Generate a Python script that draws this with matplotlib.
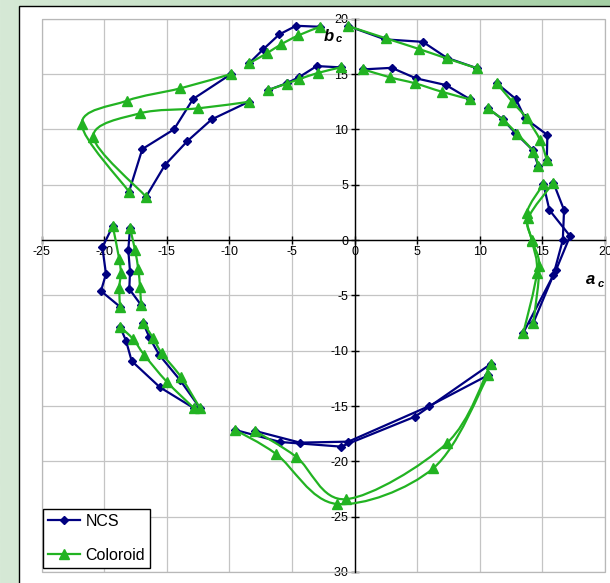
import numpy as np
import matplotlib
matplotlib.use("Agg")
import matplotlib.pyplot as plt
from matplotlib.patches import Rectangle, PathPatch
from matplotlib.path import Path
from matplotlib.lines import Line2D
from matplotlib.colors import LinearSegmentedColormap

plt.rcParams['font.family'] = ['Liberation Sans', 'DejaVu Sans']
plt.rcParams['axes.unicode_minus'] = False

# a_c / b_c of the hue loops, one row per loop (5 steps each)
ncs_a = [
    [-9.86, -12.90, -14.42, -16.95, -18.01],
    [-8.45, -11.41, -13.35, -15.14, -16.65],
    [-8.43, -7.28, -6.01, -4.67, -2.76],
    [-6.89, -5.39, -4.43, -3.02, -1.10],
    [-0.50, 2.44, 5.45, 7.36, 9.81],
    [0.70, 2.97, 4.91, 7.31, 9.23],
    [11.36, 12.88, 13.62, 15.40, 15.35],
    [10.64, 11.84, 12.82, 14.23, 14.68],
    [15.08, 15.56, 17.21, 16.09, 13.48],
    [15.88, 16.73, 16.63, 15.88, 14.28],
    [-9.54, -5.95, -1.08, 4.83, 10.88],
    [-7.95, -4.35, -0.50, 5.97, 10.69],
    [-18.73, -18.25, -17.80, -15.54, -12.82],
    [-16.87, -16.39, -15.59, -13.94, -12.34],
    [-19.31, -20.14, -19.85, -20.25, -18.73],
    [-17.93, -18.07, -17.93, -17.99, -17.05],
]
ncs_b = [
    [15.00, 12.74, 10.00, 8.22, 4.36],
    [12.49, 10.90, 8.94, 6.78, 3.91],
    [15.96, 17.25, 18.58, 19.36, 19.27],
    [13.55, 14.18, 14.72, 15.72, 15.60],
    [19.33, 18.13, 17.91, 16.47, 15.51],
    [15.42, 15.56, 14.61, 14.00, 12.71],
    [14.16, 12.74, 10.99, 9.49, 7.23],
    [11.90, 10.90, 9.69, 8.13, 6.68],
    [5.06, 2.71, 0.36, -2.71, -8.37],
    [5.18, 2.71, 0.00, -3.16, -7.47],
    [-17.16, -18.25, -18.67, -15.96, -11.20],
    [-17.25, -18.31, -18.22, -15.00, -12.20],
    [-7.83, -9.10, -10.93, -13.31, -15.20],
    [-7.52, -8.79, -10.39, -12.65, -15.20],
    [1.26, -0.66, -3.07, -4.61, -6.03],
    [1.06, -0.90, -2.86, -4.43, -5.87],
]
col_a = [
    [-9.86, -13.94, -18.20, -21.79, -18.01],
    [-8.45, -12.48, -17.13, -20.86, -16.65],
    [-8.43, -7.01, -5.87, -4.49, -2.76],
    [-6.89, -5.42, -4.41, -2.89, -1.10],
    [-0.50, 2.52, 5.18, 7.36, 9.81],
    [0.70, 2.84, 4.83, 6.96, 9.23],
    [11.36, 12.60, 13.75, 14.82, 15.35],
    [10.64, 11.88, 13.00, 14.28, 14.68],
    [15.08, 13.75, 14.15, 14.76, 14.28],
    [15.88, 13.88, 14.18, 14.55, 13.48],
    [-9.54, -6.27, -1.42, 6.29, 10.69],
    [-7.95, -4.67, -0.68, 7.36, 10.88],
    [-18.73, -17.67, -16.79, -15.00, -12.82],
    [-16.87, -16.07, -15.40, -13.86, -12.34],
    [-19.31, -18.79, -18.67, -18.79, -18.73],
    [-17.93, -17.53, -17.27, -17.13, -17.05],
]
col_b = [
    [15.00, 13.70, 12.58, 10.48, 4.36],
    [12.49, 11.90, 11.45, 9.33, 3.91],
    [15.96, 16.87, 17.68, 18.49, 19.27],
    [13.55, 14.14, 14.54, 15.11, 15.60],
    [19.33, 18.22, 17.25, 16.41, 15.51],
    [15.42, 14.70, 14.16, 13.40, 12.71],
    [14.16, 12.49, 10.99, 9.03, 7.23],
    [11.90, 10.84, 9.58, 7.98, 6.68],
    [5.06, 2.44, 0.00, -2.35, -7.47],
    [5.18, 1.99, -0.09, -2.98, -8.37],
    [-17.16, -19.33, -23.85, -20.62, -12.20],
    [-17.25, -19.58, -23.42, -18.37, -11.20],
    [-7.83, -8.97, -10.39, -12.80, -15.20],
    [-7.52, -8.88, -10.23, -12.38, -15.20],
    [1.26, -1.74, -3.01, -4.36, -6.03],
    [1.06, -0.90, -2.65, -4.27, -5.87],
]

NCS_COLOR = '#000080'
COL_COLOR = '#22b322'


def smooth_path(x, y):
    # Bezier through the points, control points from the neighbours
    p = np.column_stack([x, y])
    p = np.vstack([p[0], p, p[-1]])
    verts = [p[1]]
    codes = [Path.MOVETO]
    for i in range(1, len(p) - 2):
        c1 = p[i] + (p[i + 1] - p[i - 1]) / 6
        c2 = p[i + 1] - (p[i + 2] - p[i]) / 6
        verts += [c1, c2, p[i + 1]]
        codes += [Path.CURVE4] * 3
    return Path(verts, codes)


fig = plt.figure(figsize=(6.1, 5.83), dpi=100)

# green backdrop and white chart area
bg = fig.add_axes([0, 0, 1, 1])
grad = np.linspace(0, 1, 256)[None, :]
cmap = LinearSegmentedColormap.from_list('bg', ['#d6e9d6', '#a4cfa4'])
bg.imshow(grad, cmap=cmap, aspect='auto', extent=[0, 610, 583, 0])
bg.add_patch(Rectangle((18.5, 5.5), 700, 700, fc='white', ec='black', lw=1))
bg.set_xlim(0, 610)
bg.set_ylim(583, 0)
bg.axis('off')

ax = fig.add_axes([41.5 / 610, 11 / 583, 563.5 / 610, 553.3 / 583])
ax.set_xlim(-25, 20)
ax.set_ylim(-30, 20)
ax.set_xticks(range(-25, 21, 5))
ax.set_yticks(range(-30, 21, 5))
ax.grid(True, color='#c4c4c4', lw=0.9)
ax.set_axisbelow(True)

for s in ['left', 'bottom']:
    ax.spines[s].set_position(('data', 0))
    ax.spines[s].set_color('black')
    ax.spines[s].set_linewidth(1)
    ax.spines[s].set_zorder(2.5)
ax.spines['top'].set_visible(False)
ax.spines['right'].set_visible(False)
ax.add_patch(Rectangle((0, 0), 1, 1, transform=ax.transAxes, fill=False,
                       ec='#b8b8b8', lw=0.9, clip_on=False))
ax.tick_params(direction='inout', length=6, width=1, labelsize=9, pad=1.5)

for xs, ys in zip(ncs_a, ncs_b):
    ax.plot(xs, ys, color=NCS_COLOR, lw=1.6, marker='D', ms=4.5, zorder=3)

for xs, ys in zip(col_a, col_b):
    ax.add_patch(PathPatch(smooth_path(xs, ys), fill=False, ec=COL_COLOR,
                           lw=1.6, zorder=4))
    ax.plot(xs, ys, ls='none', color=COL_COLOR, marker='^', ms=7, zorder=4)

# axis titles
ax.text(-2.49, 18.0, 'b', fontsize=12, fontweight='bold', style='italic',
        ha='left', va='baseline', zorder=5)
ax.text(-1.48, 17.91, 'c', fontsize=8, fontweight='bold', style='italic',
        ha='left', va='baseline', zorder=5)
ax.text(18.49, -3.97, 'a', fontsize=12, fontweight='bold', style='italic',
        ha='left', va='baseline', zorder=5, clip_on=False)
ax.text(19.39, -4.22, 'c', fontsize=8, fontweight='bold', style='italic',
        ha='left', va='baseline', zorder=5, clip_on=False)

handles = [
    Line2D([], [], color=NCS_COLOR, lw=1.6, marker='D', ms=4.5),
    Line2D([], [], color=COL_COLOR, lw=1.6, marker='^', ms=7),
]
leg = fig.legend(handles, ['NCS', 'Coloroid'], loc='lower left',
                 bbox_to_anchor=(43.3 / 610, 15.3 / 583), borderaxespad=0,
                 fontsize=11.5, frameon=True, fancybox=False, framealpha=1,
                 edgecolor='black', labelspacing=1.2, handlelength=2.0,
                 handletextpad=0.35, borderpad=0.3)
leg.get_frame().set_linewidth(1)

fig.savefig('out.png', dpi=100)
